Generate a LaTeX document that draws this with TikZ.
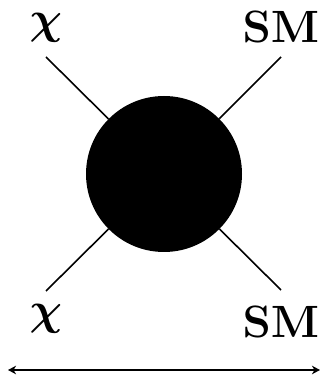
\documentclass[tikz,border=0pt]{standalone}
\usetikzlibrary{arrows.meta}

\begin{document}
\begin{tikzpicture}[x=1pt,y=1pt,
    rotulo/.style={anchor=base, inner sep=0pt, font=\Huge\boldmath, scale=1.82, transform shape},
    perna/.style={line width=1.6pt}]

    % 0. Moldura fixa do desenho
    \useasboundingbox (0,0) rectangle (322,378);

    % 1. O vértice efetivo (disco preto)
    \node[circle, fill=black, minimum size=156pt, inner sep=0pt] (bolha) at (164,204) {};

    % 2. Rótulos das partículas (em negrito)
    \node[rotulo] (chiA) at (46,344) {$\chi$};
    \node[rotulo] (smA) at (281,335) {$\mathrm{SM}$};
    \node[rotulo] (chiB) at (46,53.5) {$\chi$};
    \node[rotulo] (smB) at (281,41) {$\mathrm{SM}$};

    % 3. Pernas externas (da ponta livre até a borda do disco)
    \coordinate (pontaA) at (46,321);
    \coordinate (pontaB) at (281,321);
    \coordinate (pontaC) at (46,87);
    \coordinate (pontaD) at (281,88);
    \draw[perna] (pontaA) -- (bolha);
    \draw[perna] (pontaB) -- (bolha);
    \draw[perna] (pontaC) -- (bolha);
    \draw[perna] (pontaD) -- (bolha);

    % 4. Seta dupla embaixo
    \coordinate (setaE) at (8,8);
    \coordinate (setaD) at (320,8);
    \draw[line width=1.8pt, {Stealth[length=8pt,width=8.5pt,inset=2.5pt]}-{Stealth[length=8pt,width=8.5pt,inset=2.5pt]}] (setaE) -- (setaD);

\end{tikzpicture}
\end{document}
